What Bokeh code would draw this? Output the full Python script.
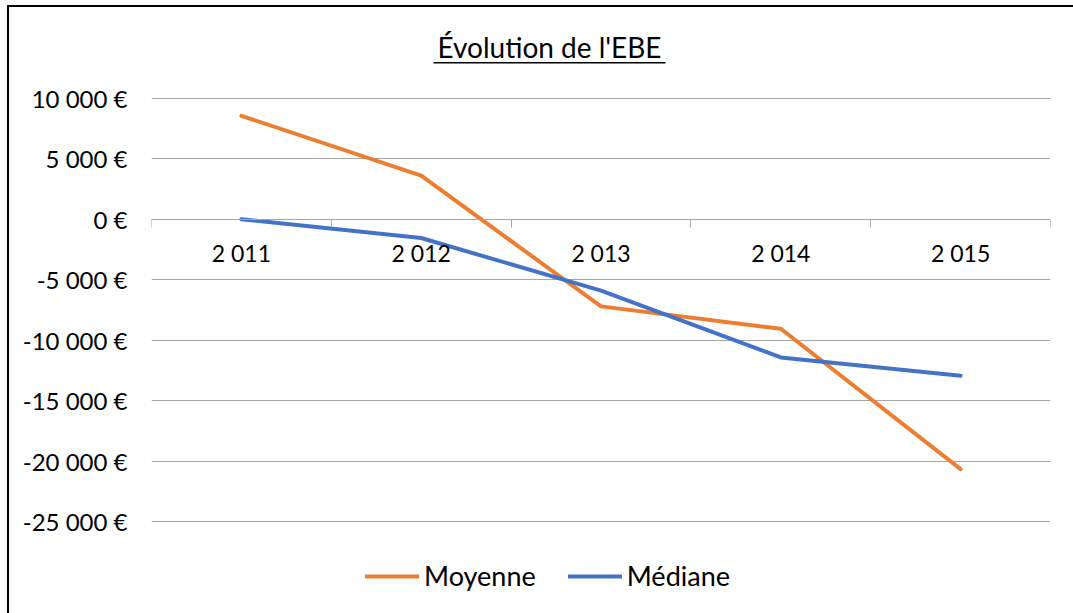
from bokeh.plotting import figure
from bokeh.models import (Range1d, FixedTicker, LinearAxis, Grid, Legend, LegendItem,
                          Label, BoxAnnotation, ColumnDataSource)
from bokeh.embed import file_html
from bokeh.resources import INLINE

# ---- data ----
years = ["2 011", "2 012", "2 013", "2 014", "2 015"]
moyenne = [8550, 3600, -7200, -9050, -20650]
mediane = [0, -1550, -5900, -11420, -12930]
y_ticks = [-25000, -20000, -15000, -10000, -5000, 0, 5000, 10000]
y_tick_labels = ["-25 000 €", "-20 000 €", "-15 000 €", "-10 000 €", "-5 000 €",
                 "0 €", "5 000 €", "10 000 €"]
title_text = "Évolution de l'EBE"
series_names = ["Moyenne", "Médiane"]

FONT = "Lato"
GRID = "#a6a6a6"
ORANGE = "#ED7D31"
BLUE = "#4472C4"

n = len(years)
x_centers = [i + 0.5 for i in range(n)]
x_bounds = list(range(n + 1))

p = figure(frame_width=899, frame_height=606,
           min_border_left=142, min_border_top=0, min_border_right=23, min_border_bottom=0,
           x_range=Range1d(0, n), y_range=Range1d(-32580, 17500),
           x_axis_type=None, y_axis_type=None,
           output_backend="svg", toolbar_location=None)
p.outline_line_color = None
p.background_fill_color = "white"
p.border_fill_color = "white"
p.styles = {"margin-left": "7px", "margin-top": "5px",
            "border-left": "2px solid black", "border-top": "2px solid black"}

# y axis
yticker = FixedTicker(ticks=y_ticks)
yaxis = LinearAxis(ticker=yticker)
yaxis.major_label_overrides = {t: l for t, l in zip(y_ticks, y_tick_labels)}
yaxis.axis_line_color = None
yaxis.major_tick_line_color = None
yaxis.major_tick_out = 0
yaxis.major_tick_in = 0
yaxis.minor_tick_line_color = None
yaxis.major_label_standoff = 24
yaxis.major_label_text_font = FONT
yaxis.major_label_text_font_size = "24px"
yaxis.major_label_text_color = "black"
p.add_layout(yaxis, "left")
p.add_layout(Grid(dimension=1, ticker=yticker, grid_line_color=GRID, grid_line_width=1))

# x axis at y = 0
xaxis = LinearAxis(ticker=FixedTicker(ticks=x_centers, minor_ticks=x_bounds), fixed_location=0)
xaxis.major_label_overrides = {c: l for c, l in zip(x_centers, years)}
xaxis.axis_line_color = GRID
xaxis.axis_line_width = 1
xaxis.major_tick_out = 0
xaxis.major_tick_in = 0
xaxis.major_tick_line_color = None
xaxis.minor_tick_out = 8
xaxis.minor_tick_in = 0
xaxis.minor_tick_line_color = GRID
xaxis.major_label_standoff = 12
xaxis.major_label_text_font = FONT
xaxis.major_label_text_font_size = "23px"
xaxis.major_label_text_color = "black"
p.add_layout(xaxis, "below")

src = ColumnDataSource(dict(x=x_centers, moy=moyenne, med=mediane))
r1 = p.line("x", "moy", source=src, line_color=ORANGE, line_width=4,
            line_join="round", line_cap="round")
r2 = p.line("x", "med", source=src, line_color=BLUE, line_width=4,
            line_join="round", line_cap="round")

legend = Legend(items=[LegendItem(label=series_names[0], renderers=[r1]),
                       LegendItem(label=series_names[1], renderers=[r2])],
                orientation="horizontal", location=(214, 21))
legend.label_text_font = FONT
legend.label_text_font_size = "27px"
legend.label_text_color = "black"
legend.glyph_width = 54
legend.glyph_height = 20
legend.label_standoff = 5
legend.spacing = 32
legend.padding = 0
legend.margin = 0
legend.border_line_color = None
legend.background_fill_alpha = 0
p.add_layout(legend, "center")

# title with underline
p.add_layout(Label(x=398, y=567, x_units="screen", y_units="screen", text=title_text,
                   text_align="center", text_baseline="alphabetic",
                   text_font=FONT, text_font_size="28px", text_color="black"))
p.add_layout(BoxAnnotation(left=282, right=514, bottom=550, top=551.5,
                           left_units="screen", right_units="screen",
                           bottom_units="screen", top_units="screen",
                           fill_color="black", fill_alpha=1, line_color=None))

open("out.html", "w").write(file_html(p, INLINE))
